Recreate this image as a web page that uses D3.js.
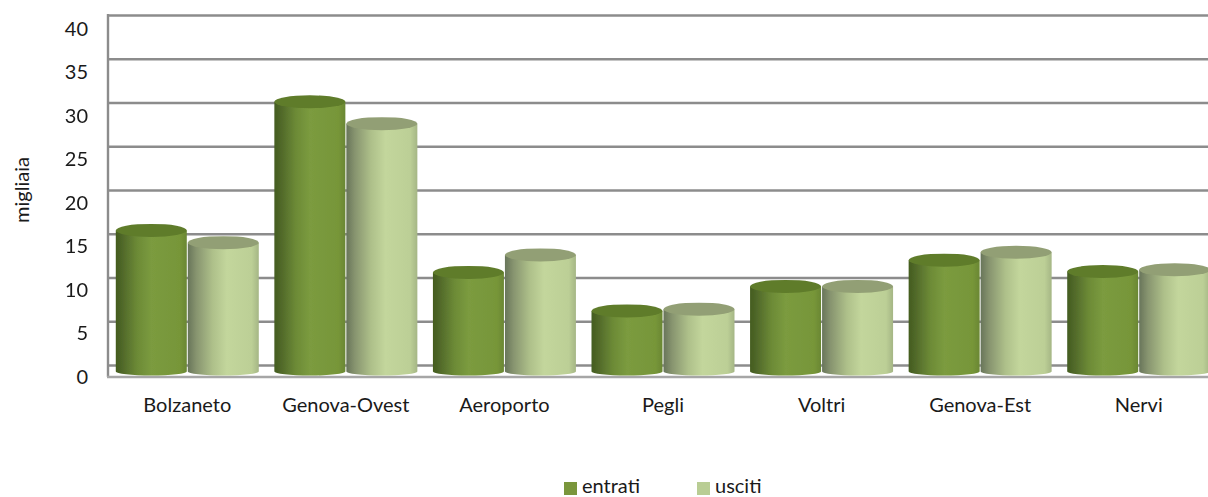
<!DOCTYPE html>
<html>
<head>
<meta charset="utf-8">
<script src="https://cdn.jsdelivr.net/npm/d3@7"></script>
<style>
    html, body { margin: 0; padding: 0; background: #fff; overflow: hidden; }
    svg { display: block; }
    text { font-family: Lato, "Open Sans", sans-serif; font-size: 20px; fill: #1a1a1a; }
</style>
</head>
<body>
<div id="chart"></div>
<script>
const categories = ["Bolzaneto", "Genova-Ovest", "Aeroporto", "Pegli", "Voltri", "Genova-Est", "Nervi"];
const entrati = [15.9, 30.6, 11.1, 6.7, 9.5, 12.5, 11.2];
const usciti = [14.5, 28.1, 13.1, 6.9, 9.5, 13.4, 11.4];
const yTicks = [0, 5, 10, 15, 20, 25, 30, 35, 40];
const seriesNames = ["entrati", "usciti"];

const width = 1208, height = 497;
const svg = d3.select("#chart").append("svg").attr("width", width).attr("height", height);
const defs = svg.append("defs");

// Sfumature dei cilindri
function addGradient(id, stops) {
    const g = defs.append("linearGradient").attr("id", id);
    stops.forEach(([o, c]) => g.append("stop").attr("offset", o).attr("stop-color", c));
}
addGradient("grad-entrati", [[0, "#435c1e"], [0.1, "#51692a"], [0.3, "#6c8a36"], [0.5, "#7b9b3f"], [0.9, "#779639"], [1, "#6a8733"]]);
addGradient("grad-usciti", [[0, "#68755a"], [0.12, "#87946f"], [0.35, "#aec08a"], [0.55, "#c3d69c"], [0.9, "#bccf96"], [1, "#a5b685"]]);
defs.append("filter").attr("id", "soft")
    .attr("filterUnits", "userSpaceOnUse")
    .attr("x", 0).attr("y", 0).attr("width", width).attr("height", height)
    .append("feGaussianBlur").attr("stdDeviation", 0.5);

const topColor = { entrati: "#5f7b2b", usciti: "#929f74" };
const legendColor = { entrati: "#7a963c", usciti: "#b9cd94" };

// Scale: parete di fondo, fronte delle etichette e base dei cilindri
const x0 = d3.scaleBand().domain(categories).range([108, 1218]);
const x1 = d3.scaleBand().domain(seriesNames).range([0, 144]);
const yBack = d3.scaleLinear().domain([0, 40]).range([365, 15]);
const yFront = d3.scaleLinear().domain([0, 40]).range([376, 28]);
const yBar = d3.scaleLinear().domain([0, 40]).range([369.5, 19.5]);

// Griglia
const grid = svg.append("g")
    .attr("transform", "translate(108,0)")
    .attr("filter", "url(#soft)")
    .call(d3.axisRight(yBack).tickValues(yTicks).tickSize(width - 108).tickFormat(""));
grid.select(".domain").remove();
grid.selectAll("line").attr("stroke", "#8c8c8c").attr("stroke-width", 2.4);

svg.append("line").attr("filter", "url(#soft)")
    .attr("x1", 108).attr("x2", 108).attr("y1", yBack(40) - 1).attr("y2", 377)
    .attr("stroke", "#8c8c8c").attr("stroke-width", 2.4);
svg.append("line").attr("filter", "url(#soft)")
    .attr("x1", 107).attr("x2", width).attr("y1", 377).attr("y2", 377)
    .attr("stroke", "#a6a6a6").attr("stroke-width", 2.4);

// Cilindri
const rx = x1.bandwidth() / 2, ry = 6.5;
const bars = svg.append("g").attr("filter", "url(#soft)");
[entrati, usciti].forEach((values, s) => {
    const name = seriesNames[s];
    values.forEach((v, i) => {
        const cx = x0(categories[i]) + (x0.bandwidth() - 144) / 2 + x1(name) + rx;
        const yt = yBar(v), yb = yBar(0) + 2;
        const w = rx - 0.5;
        bars.append("path")
            .attr("d", `M${cx - w},${yt}L${cx - w},${yb}A${w},4 0 0 0 ${cx + w},${yb}L${cx + w},${yt}Z`)
            .attr("fill", `url(#grad-${name})`);
        bars.append("ellipse")
            .attr("cx", cx).attr("cy", yt).attr("rx", w).attr("ry", ry)
            .attr("fill", topColor[name]);
    });
});

// Assi
const yAxis = svg.append("g")
    .attr("transform", "translate(88,0)")
    .call(d3.axisLeft(yFront).tickValues(yTicks).tickSize(0).tickPadding(0));
yAxis.select(".domain").remove();
yAxis.selectAll("text").attr("dy", "0.35em").style("font-size", "20px").style("font-family", "Lato, 'Open Sans', sans-serif");

const xAxis = svg.append("g")
    .attr("transform", "translate(0,405)")
    .call(d3.axisBottom(x0).tickSize(0).tickPadding(0));
xAxis.select(".domain").remove();
xAxis.selectAll("text").attr("dy", "0.35em").attr("y", 0).style("font-size", "20px").style("font-family", "Lato, 'Open Sans', sans-serif");

svg.append("text")
    .attr("transform", "translate(22,190) rotate(-90)")
    .attr("text-anchor", "middle")
    .attr("dy", "0.35em")
    .text("migliaia");

// Legenda
const legendX = d3.scaleOrdinal().domain(seriesNames).range([564, 697]);
seriesNames.forEach(name => {
    svg.append("rect")
        .attr("x", legendX(name)).attr("y", 482)
        .attr("width", 13).attr("height", 13)
        .attr("fill", legendColor[name]);
    svg.append("text")
        .attr("x", legendX(name) + 18).attr("y", 492.5)
        .text(name);
});
</script>
</body>
</html>
